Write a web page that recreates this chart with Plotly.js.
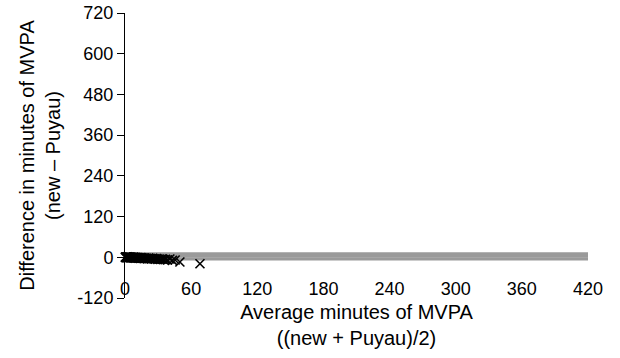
<!DOCTYPE html>
<html>
<head>
<meta charset="utf-8">
<script src="https://cdn.plot.ly/plotly-3.0.1.min.js"></script>
<style>html,body{margin:0;padding:0;background:#fff;}#chart{width:620px;height:358px;}</style>
</head>
<body>
<div id="chart"></div>
<script>
// Bland-Altman data: average minutes of MVPA vs difference (new - Puyau)
var avgMinutes = [0.3,0.5,0.8,1.0,1.2,1.5,1.8,2.0,2.3,2.6,3.0,3.3,3.7,4.0,4.4,4.8,5.2,5.6,6.0,6.5,
  7.0,7.4,7.9,8.3,8.8,9.2,9.8,10.3,10.9,11.4,12.0,12.6,13.1,13.8,14.5,15.1,15.8,16.6,17.3,18.0,
  18.9,19.7,20.5,21.4,22.3,23.2,24.1,25.0,26.2,27.3,28.5,29.8,31.0,32.4,33.9,35.2,36.8,38.5,40.7,43.0,
  45.5,49.8,68.0];
var diffMinutes = [0.5,-0.5,1.0,0.0,-1.0,0.5,-0.5,1.5,-1.0,0.0,0.5,-1.5,0.0,1.0,-0.5,-1.0,0.5,-2.0,0.0,-1.0,
  -0.5,-2.0,0.5,-1.5,-1.0,-2.5,0.0,-1.5,-2.0,-1.0,-3.0,-1.5,-2.0,-3.5,-1.0,-2.5,-3.0,-2.0,-4.0,-2.5,
  -3.5,-3.0,-4.5,-2.5,-4.0,-3.5,-5.0,-3.0,-4.5,-5.5,-4.0,-6.0,-5.0,-6.5,-5.5,-7.0,-6.0,-8.0,-5.0,-9.0,
  -8.0,-14.0,-19.0];
var limitX = [0, 420];
var upperLimit = [11, 11];
var meanDiff = [3, 3];
var lowerLimit = [-5, -5];
var xTicks = [0,60,120,180,240,300,360,420];
var yTicks = [-120,0,120,240,360,480,600,720];

var bandColor = '#9a9a9a';
var traces = [
  {x: limitX, y: upperLimit, mode: 'lines', line: {color: bandColor, width: 2.8}, hoverinfo: 'skip'},
  {x: limitX, y: meanDiff, mode: 'lines', line: {color: bandColor, width: 2.8}, hoverinfo: 'skip'},
  {x: limitX, y: lowerLimit, mode: 'lines', line: {color: bandColor, width: 2.8}, hoverinfo: 'skip'},
  {x: avgMinutes, y: diffMinutes, mode: 'markers', cliponaxis: false,
   marker: {symbol: 'x-thin', size: 9, color: '#000', line: {color: '#000', width: 1.6}}}
];
var fam = 'Liberation Sans, Arial, sans-serif';
var titleFont = {family: fam, size: 20, color: '#000'};
var tickFont = {family: fam, size: 18, color: '#000'};
var layout = {
  width: 620, height: 358,
  margin: {l: 125, r: 32, t: 13, b: 60},
  showlegend: false,
  paper_bgcolor: '#fff', plot_bgcolor: '#fff',
  font: titleFont,
  xaxis: {
    range: [0, 420], tickvals: xTicks, ticktext: xTicks.map(String),
    anchor: 'free', position: 0.077, showline: false, ticks: '', showgrid: false, zeroline: false,
    tickfont: tickFont,
    title: {text: 'Average minutes of MVPA<br>((new + Puyau)/2)', font: titleFont, standoff: 6}
  },
  xaxis2: {
    range: [0, 420], tickvals: xTicks, overlaying: 'x', anchor: 'free', position: 120/840,
    showline: false, ticks: 'outside', ticklen: 5, tickcolor: '#000', showticklabels: false,
    showgrid: false, zeroline: false
  },
  yaxis: {
    range: [-120, 720], tickvals: yTicks, ticktext: yTicks.map(String),
    showline: true, linecolor: '#000', linewidth: 1, ticks: 'outside', ticklen: 7, tickcolor: '#000',
    showgrid: false, zeroline: false, tickfont: tickFont,
    title: {text: 'Difference in minutes of MVPA<br>(new \u2013 Puyau)', font: titleFont, standoff: 11}
  }
};
Plotly.newPlot('chart', traces, layout, {staticPlot: true, displayModeBar: false});
</script>
</body>
</html>
